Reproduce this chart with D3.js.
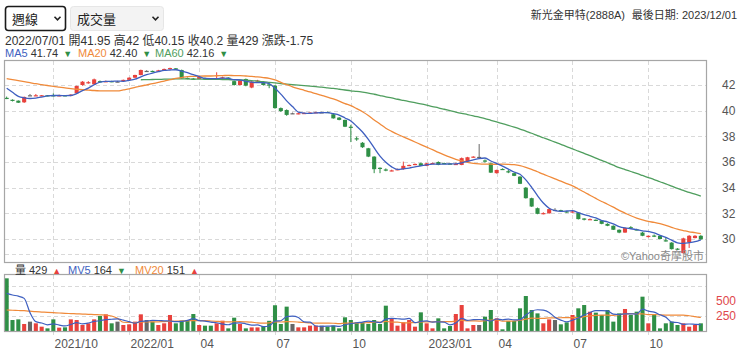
<!DOCTYPE html>
<html><head><meta charset="utf-8">
<script src="https://cdn.jsdelivr.net/npm/d3@7"></script>
<style>
html,body{margin:0;padding:0;background:#fff;}
svg{display:block;font-family:"Liberation Sans","Noto Sans CJK TC",Arial,sans-serif;}
</style></head><body>
<svg id="c" width="740" height="353"></svg>
<script>
// ---------------- data ----------------
const stockName = "新光金甲特(2888A)";
const periodLabel = "週線";
const volLabel = "成交量";
const firstWeek = "2021-08-06", lastWeek = "2023-12-01";
const holidayWeeks = ["2022-02-04", "2023-01-27"];
const hoverWeek = "2022-07-01";

const opens = [41.00,40.85,40.78,40.65,41.20,41.15,41.15,41.20,41.20,41.15,41.20,41.15,41.35,42.00,42.18,42.05,42.30,42.25,42.30,42.27,
42.30,42.40,42.57,42.78,43.10,43.10,43.05,43.15,43.25,43.30,43.17,42.55,42.50,42.47,42.55,42.50,42.45,42.52,42.58,42.30,
42.00,42.47,41.80,42.30,42.20,42.05,41.95,40.20,40.05,39.80,39.75,39.78,39.80,39.82,39.87,39.90,39.72,39.46,39.28,38.75,
37.85,37.50,37.07,36.42,35.55,35.42,35.30,35.40,35.44,35.72,35.78,35.90,35.70,35.88,36.00,35.92,35.88,35.80,35.77,36.03,
36.38,36.40,36.12,35.90,35.13,35.46,35.28,35.13,34.86,34.00,33.18,32.40,31.97,32.00,32.27,32.25,32.15,32.10,32.06,31.60,
31.50,31.50,31.44,31.18,31.03,30.72,30.50,30.92,30.75,30.50,30.15,30.27,30.25,29.90,29.72,29.25,28.90,29.74,30.07,30.25];
const highs = [41.10,40.88,40.80,41.10,41.30,41.30,41.22,41.22,41.35,41.25,41.22,41.28,41.95,42.30,42.30,42.50,42.35,42.35,42.33,42.32,
42.42,42.60,42.80,43.20,43.15,43.12,43.18,43.28,43.35,43.32,43.20,42.58,42.55,42.65,42.58,42.52,42.99,42.65,42.60,42.35,
42.40,42.50,42.30,42.40,42.25,42.10,42.00,40.25,40.10,39.85,39.85,39.86,39.88,39.92,39.92,39.92,39.75,39.50,39.30,38.90,
37.98,37.55,37.10,36.45,35.58,35.50,35.40,35.48,36.03,35.80,35.88,35.95,35.92,35.95,36.05,35.95,35.92,35.95,36.35,36.40,
36.45,37.40,36.20,35.95,35.40,35.50,35.38,35.18,34.90,34.05,33.22,32.45,32.08,32.38,32.40,32.28,32.18,32.25,32.10,31.62,
31.60,31.52,31.48,31.22,31.06,30.75,30.90,31.00,30.80,30.55,30.28,30.35,30.28,30.15,29.75,29.28,30.10,30.30,30.30,30.30];
const lows = [40.90,40.72,40.60,40.60,41.18,41.15,41.12,41.12,41.12,41.12,41.12,41.12,41.30,41.95,42.10,42.00,42.20,42.22,42.22,42.22,
42.28,42.38,42.55,42.75,43.05,43.00,43.02,43.12,43.22,43.18,42.48,42.45,42.40,42.45,42.44,42.42,42.40,42.50,42.48,41.95,
41.95,41.90,41.75,42.25,41.95,41.75,40.15,39.90,39.60,39.75,39.72,39.75,39.78,39.80,39.82,39.82,39.38,39.25,38.72,37.55,
37.65,37.10,36.38,35.13,35.13,35.28,35.28,35.36,35.40,35.68,35.75,35.68,35.68,35.85,35.75,35.85,35.82,35.78,35.75,36.00,
36.35,36.35,35.95,35.15,35.10,35.40,35.13,34.90,34.28,33.15,32.50,31.93,31.92,31.98,32.25,32.15,32.05,32.05,31.52,31.45,
31.48,31.40,31.15,31.00,30.70,30.45,30.48,30.80,30.68,30.22,30.12,30.15,29.97,29.80,29.18,29.15,28.85,29.30,30.05,29.95];
const closes = [40.95,40.80,40.62,41.07,41.20,41.20,41.20,41.15,41.15,41.20,41.15,41.25,41.92,42.26,42.22,42.44,42.25,42.30,42.25,42.27,
42.40,42.57,42.78,43.17,43.10,43.03,43.14,43.25,43.32,43.22,42.52,42.50,42.45,42.62,42.47,42.45,42.52,42.60,42.52,42.00,
42.35,41.95,42.26,42.35,42.00,41.95,40.20,39.97,39.67,39.80,39.80,39.82,39.85,39.88,39.87,39.85,39.40,39.28,38.75,38.70,
37.80,37.15,36.42,35.44,35.50,35.38,35.35,35.44,35.70,35.77,35.85,35.70,35.90,35.92,35.77,35.88,35.85,35.85,36.30,36.37,
36.42,36.40,36.05,35.17,35.38,35.42,35.23,34.92,34.30,33.18,32.53,31.96,32.02,32.33,32.27,32.20,32.10,32.15,31.55,31.50,
31.55,31.44,31.18,31.03,30.72,30.50,30.85,30.88,30.72,30.25,30.25,30.23,30.00,29.85,29.21,29.20,30.05,30.25,30.25,29.97];
const volumes = [878,183,194,117,156,128,72,44,194,56,61,194,183,100,128,194,250,278,128,156,
100,111,156,278,183,156,100,128,267,128,172,183,283,100,89,89,128,172,44,222,
117,44,60,60,80,170,429,117,406,117,61,61,89,89,89,72,89,44,228,183,
144,144,117,183,117,422,211,89,144,183,72,311,128,44,211,44,83,283,433,44,
100,100,239,350,211,28,167,167,378,583,350,294,128,194,183,111,144,267,378,433,
322,306,267,350,156,294,367,267,322,572,128,283,44,128,156,100,128,72,100,128];
const ma5 = [41.75,41.43,41.12,41.00,40.95,40.98,41.06,41.16,41.18,41.18,41.17,41.18,41.33,41.56,41.76,42.02,42.22,42.29,42.29,42.30,
42.29,42.36,42.45,42.64,42.80,42.93,43.04,43.14,43.17,43.19,43.09,42.96,42.80,42.66,42.51,42.50,42.50,42.53,42.51,42.42,
42.40,42.28,42.22,42.18,42.18,42.10,41.74,41.29,40.76,40.32,39.89,39.81,39.79,39.83,39.84,39.85,39.77,39.66,39.43,39.20,
38.79,38.34,37.76,37.10,36.46,35.98,35.62,35.42,35.47,35.53,35.62,35.69,35.78,35.83,35.83,35.83,35.86,35.85,35.93,36.05,
36.16,36.27,36.31,36.08,35.88,35.68,35.45,35.22,35.05,34.61,34.03,33.38,32.80,32.40,32.22,32.16,32.18,32.21,32.05,31.90,
31.77,31.64,31.44,31.34,31.18,30.97,30.86,30.80,30.73,30.64,30.59,30.47,30.29,30.12,29.91,29.70,29.66,29.71,29.79,29.94];
const ma20 = [42.50,42.42,42.34,42.26,42.18,42.10,42.03,41.96,41.89,41.83,41.77,41.72,41.67,41.63,41.60,41.57,41.55,41.54,41.54,41.54,
41.62,41.70,41.81,41.92,42.01,42.10,42.20,42.31,42.41,42.51,42.58,42.65,42.67,42.69,42.70,42.70,42.72,42.73,42.75,42.73,
42.73,42.70,42.67,42.63,42.58,42.52,42.40,42.21,42.03,41.86,41.72,41.59,41.46,41.32,41.19,41.06,40.91,40.74,40.55,40.39,
40.16,39.92,39.63,39.28,38.96,38.63,38.39,38.16,37.96,37.76,37.56,37.36,37.16,36.96,36.75,36.56,36.38,36.21,36.08,35.97,
35.90,35.86,35.84,35.83,35.82,35.83,35.82,35.79,35.72,35.59,35.43,35.24,35.05,34.87,34.69,34.51,34.32,34.14,33.90,33.66,
33.41,33.16,32.92,32.71,32.48,32.23,32.02,31.81,31.63,31.49,31.37,31.29,31.19,31.06,30.91,30.76,30.66,30.56,30.50,30.42];
const ma60 = [null,null,null,null,null,null,null,null,null,null,null,null,null,null,null,null,null,null,null,null,
null,null,null,42.41,42.42,42.43,42.44,42.45,42.46,42.47,42.47,42.47,42.46,42.46,42.45,42.45,42.44,42.43,42.42,42.40,
42.39,42.37,42.34,42.30,42.26,42.21,42.16,42.11,42.07,42.03,41.99,41.95,41.91,41.87,41.83,41.78,41.73,41.67,41.61,41.55,
41.50,41.44,41.37,41.28,41.18,41.08,40.99,40.89,40.80,40.71,40.62,40.53,40.43,40.32,40.22,40.11,40.00,39.89,39.79,39.70,
39.60,39.49,39.38,39.25,39.12,38.99,38.86,38.72,38.57,38.40,38.24,38.06,37.89,37.72,37.55,37.38,37.20,37.03,36.84,36.67,
36.49,36.31,36.13,35.94,35.75,35.56,35.41,35.26,35.11,34.95,34.79,34.63,34.46,34.30,34.12,33.94,33.79,33.63,33.49,33.35];
const mv5 = [628,600,580,544,306,156,133,103,119,99,85,110,138,119,133,160,171,190,196,201,
182,155,130,160,166,177,175,169,167,156,159,176,207,173,165,149,138,116,104,131,
137,120,97,101,72,83,164,171,240,248,226,152,147,83,78,80,86,77,104,123,
138,149,163,154,141,197,210,204,197,210,140,160,168,148,153,148,102,133,211,177,
189,192,183,167,200,186,199,185,190,265,329,354,347,310,230,182,152,180,217,267,
309,341,341,336,280,275,287,287,281,364,331,314,270,231,148,142,111,117,111,106];
const mv20 = [350,346,342,338,330,322,316,310,305,300,294,290,286,282,278,274,270,266,250,210,
146,142,140,148,150,151,153,157,160,164,170,169,174,174,172,167,161,155,151,154,
155,152,147,136,131,135,151,150,155,154,149,142,133,132,132,131,129,123,132,130,
132,137,139,146,147,160,149,148,135,138,139,151,153,151,157,155,155,167,177,170,
168,166,172,180,185,165,163,167,179,199,213,212,212,219,218,221,224,224,221,240,
251,262,263,263,260,274,284,289,286,285,274,274,269,266,265,264,263,254,240,225];
const volArrows = ["▲", "▼", "▲"];

const priceTicks = [30, 32, 34, 36, 38, 40, 42];
const priceGrid = [28.8, 30, 32, 34, 36, 38, 40, 42];
const volTicks = [250, 500];
const volGrid = [250, 500, 750];
const tickWeeks = ["2021-10-01","2021-12-31","2022-04-01","2022-07-01","2022-09-30","2022-12-30","2023-03-31","2023-06-30","2023-09-29"];
const tickLabels = ["2021/10","2022/01","04","07","10","2023/01","04","07","10"];

// ---------------- build ----------------
const key = d3.timeFormat("%Y-%m-%d");
const slash = d3.timeFormat("%Y/%m/%d");
const parse = d3.timeParse("%Y-%m-%d");
const weekDates = d3.timeFriday.range(parse(firstWeek), d3.timeDay.offset(parse(lastWeek), 1))
  .filter(d => !holidayWeeks.includes(key(d)));
const weeks = weekDates.map(key);
const data = weeks.map((k, i) => ({k, o: opens[i], h: highs[i], l: lows[i], c: closes[i], v: volumes[i]}));

const RED = "#e8413c", GREEN = "#2f8f46", GRAY = "#666";
const C5 = "#3e5fc0", C20 = "#f08a3a", C60 = "#4f9e5e";
const GRID = "#d9d9d9", BORDER = "#a6a6a6";

const svg = d3.select("#c");
const x = d3.scaleBand().domain(weeks).range([3.75, 703.75]).paddingInner(0.3).paddingOuter(0.15);
const cx = k => x(k) + x.bandwidth() / 2;
const y = d3.scaleLinear().domain([30, 42]).range([239, 85]);
const yv = d3.scaleLinear().domain([0, 500]).range([331, 301]);

const M = {l: 5, r: 706, t: 61, b: 262};
const V = {t: 275, b: 331};

const defs = svg.append("defs");
defs.append("clipPath").attr("id", "cm").append("rect").attr("x", M.l).attr("y", M.t).attr("width", M.r - M.l).attr("height", M.b - M.t);
defs.append("clipPath").attr("id", "cv").append("rect").attr("x", M.l).attr("y", V.t).attr("width", M.r - M.l).attr("height", V.b - V.t);

// grid
const grid = svg.append("g").attr("stroke", GRID).attr("stroke-dasharray", "4,3").attr("stroke-width", 1);
grid.selectAll("line.hp").data(priceGrid).join("line")
  .attr("x1", M.l).attr("x2", M.r).attr("y1", d => Math.round(y(d)) + 0.5).attr("y2", d => Math.round(y(d)) + 0.5);
grid.selectAll("line.hv").data(volGrid).join("line")
  .attr("x1", M.l).attr("x2", M.r).attr("y1", d => Math.round(yv(d)) + 0.5).attr("y2", d => Math.round(yv(d)) + 0.5);
grid.selectAll("line.vm").data(tickWeeks).join("line")
  .attr("x1", d => Math.round(cx(d)) + 0.5).attr("x2", d => Math.round(cx(d)) + 0.5).attr("y1", M.t).attr("y2", M.b);
grid.selectAll("line.vv").data(tickWeeks).join("line")
  .attr("x1", d => Math.round(cx(d)) + 0.5).attr("x2", d => Math.round(cx(d)) + 0.5).attr("y1", V.t).attr("y2", 338);

// candles
const col = d => d.c > d.o ? RED : d.c < d.o ? GREEN : GRAY;
const gm = svg.append("g").attr("clip-path", "url(#cm)");
gm.selectAll("line.wick").data(data).join("line")
  .attr("x1", d => cx(d.k)).attr("x2", d => cx(d.k))
  .attr("y1", d => y(d.h)).attr("y2", d => y(d.l))
  .attr("stroke", col).attr("stroke-width", 1);
gm.selectAll("rect.body").data(data).join("rect")
  .attr("x", d => x(d.k)).attr("width", x.bandwidth())
  .attr("y", d => y(Math.max(d.o, d.c)))
  .attr("height", d => Math.max(1.2, Math.abs(y(d.o) - y(d.c))))
  .attr("fill", col);

const lineP = d3.line().defined(v => v != null).x((v, i) => cx(weeks[i])).y(v => y(v)).curve(d3.curveMonotoneX);
[[ma60, C60], [ma20, C20], [ma5, C5]].forEach(([arr, c]) => {
  gm.append("path").datum(arr).attr("d", lineP).attr("fill", "none").attr("stroke", c).attr("stroke-width", 1.3);
});

// volume
const gv = svg.append("g").attr("clip-path", "url(#cv)");
gv.selectAll("rect.vol").data(data).join("rect")
  .attr("x", d => x(d.k)).attr("width", x.bandwidth())
  .attr("y", d => yv(d.v)).attr("height", d => yv(0) - yv(d.v))
  .attr("fill", col);
const lineV = d3.line().x((v, i) => cx(weeks[i])).y(v => yv(v)).curve(d3.curveMonotoneX);
[[mv20, C20], [mv5, C5]].forEach(([arr, c]) => {
  gv.append("path").datum(arr).attr("d", lineV).attr("fill", "none").attr("stroke", c).attr("stroke-width", 1.2);
});

// borders
svg.append("rect").attr("x", M.l - 0.5).attr("y", M.t - 0.5).attr("width", M.r - M.l + 1).attr("height", M.b - M.t + 1)
  .attr("fill", "none").attr("stroke", BORDER).attr("stroke-width", 1.2);
svg.append("rect").attr("x", M.l - 0.5).attr("y", V.t - 0.5).attr("width", M.r - M.l + 1).attr("height", V.b - V.t + 1)
  .attr("fill", "none").attr("stroke", BORDER).attr("stroke-width", 1.2);

// axes
const ay = svg.append("g").attr("transform", "translate(718,0)")
  .call(d3.axisRight(y).tickValues(priceTicks).tickSize(0).tickPadding(4).tickFormat(d3.format("d")));
ay.select(".domain").remove();
ay.selectAll("text").attr("fill", "#555").style("font-size", "12px").style("font-family", "inherit");
const av = svg.append("g").attr("transform", "translate(712,0)")
  .call(d3.axisRight(yv).tickValues(volTicks).tickSize(0).tickPadding(4).tickFormat(d3.format("d")));
av.select(".domain").remove();
av.selectAll("text").attr("fill", "#e0474c").style("font-size", "12px").style("font-family", "inherit");
const ax = svg.append("g").attr("transform", "translate(0,337)")
  .call(d3.axisBottom(d3.scalePoint().domain(tickWeeks).range([cx(tickWeeks[0]), cx(tickWeeks[tickWeeks.length - 1])]))
    .tickSize(0).tickPadding(2).tickFormat((d, i) => tickLabels[i]));
ax.select(".domain").remove();
ax.selectAll(".tick").attr("transform", d => `translate(${Math.round(cx(d)) + 1.5},0)`);
ax.selectAll("text").attr("fill", "#555").attr("text-anchor", "start").style("font-size", "12px").style("font-family", "inherit");

// watermark
svg.append("text").attr("x", 704).attr("y", 260).attr("text-anchor", "end")
  .attr("fill", "#8a8a8a").style("font-size", "11px").text("©Yahoo奇摩股市");

// header selects
function selectBox(x0, w, label, focused) {
  const g = svg.append("g");
  g.append("rect").attr("x", x0).attr("y", 6.5).attr("width", w).attr("height", 24).attr("rx", 3)
    .attr("fill", focused ? "#fff" : "#f3f3f3")
    .attr("stroke", focused ? "#1b1b1b" : "#e6e6e6").attr("stroke-width", focused ? 1.6 : 1);
  g.append("text").attr("x", x0 + 6.5).attr("y", 23.5).attr("fill", "#222").style("font-size", "13px").text(label);
  const c = x0 + w - 8;
  g.append("path").attr("d", `M${c - 3},16.8 L${c},19.8 L${c + 3},16.8`).attr("fill", "none")
    .attr("stroke", "#222").attr("stroke-width", 1.6);
}
selectBox(5.5, 60, periodLabel, true);
selectBox(70.5, 93, volLabel, false);

// top-right info
svg.append("text").attr("x", 625).attr("y", 18.5).attr("text-anchor", "end").attr("fill", "#333")
  .style("font-size", "11px").text(stockName);
svg.append("text").attr("x", 737).attr("y", 18.5).attr("text-anchor", "end").attr("fill", "#333")
  .style("font-size", "11px").text("最後日期: " + slash(parse(weeks[weeks.length - 1])));

// hover info line
const hi = weeks.indexOf(hoverWeek);
const hd = data[hi];
const num = v => String(+v.toFixed(2));
svg.append("text").attr("x", 5).attr("y", 45).attr("fill", "#333").style("font-size", "12px")
  .text(`${slash(parse(hd.k))} 開${num(hd.o)} 高${num(hd.h)} 低${num(hd.l)} 收${num(hd.c)} 量${hd.v} 漲跌${num(hd.c - closes[hi - 1])}`);

// legends (label value arrow, flowing)
function legendItem(x0, yb, label, color, value, arrow, arrowColor) {
  const t = svg.append("text").attr("x", x0).attr("y", yb).style("font-size", "11px");
  t.append("tspan").attr("fill", color).text(label);
  t.append("tspan").attr("fill", "#333").attr("dx", 3).text(value);
  t.append("tspan").attr("fill", arrowColor).attr("dx", 5).style("font-size", "9px").text(arrow);
}
const arrowOf = (arr) => arr[hi] >= arr[hi - 1] ? ["▲", RED] : ["▼", GREEN];
[[ma5, "MA5", C5, 5], [ma20, "MA20", C20, 78], [ma60, "MA60", C60, 155]].forEach(([arr, lab, c, x0]) => {
  const [a, ac] = arrowOf(arr);
  legendItem(x0, 56.5, lab, c, arr[hi].toFixed(2), a, ac);
});

const arrowCol = a => a === "▲" ? RED : GREEN;
legendItem(15, 274, "量", "#333", String(hd.v), volArrows[0], arrowCol(volArrows[0]));
legendItem(68, 274, "MV5", C5, String(mv5[hi]), volArrows[1], arrowCol(volArrows[1]));
legendItem(135, 274, "MV20", C20, String(mv20[hi]), volArrows[2], arrowCol(volArrows[2]));
</script>
</body></html>
